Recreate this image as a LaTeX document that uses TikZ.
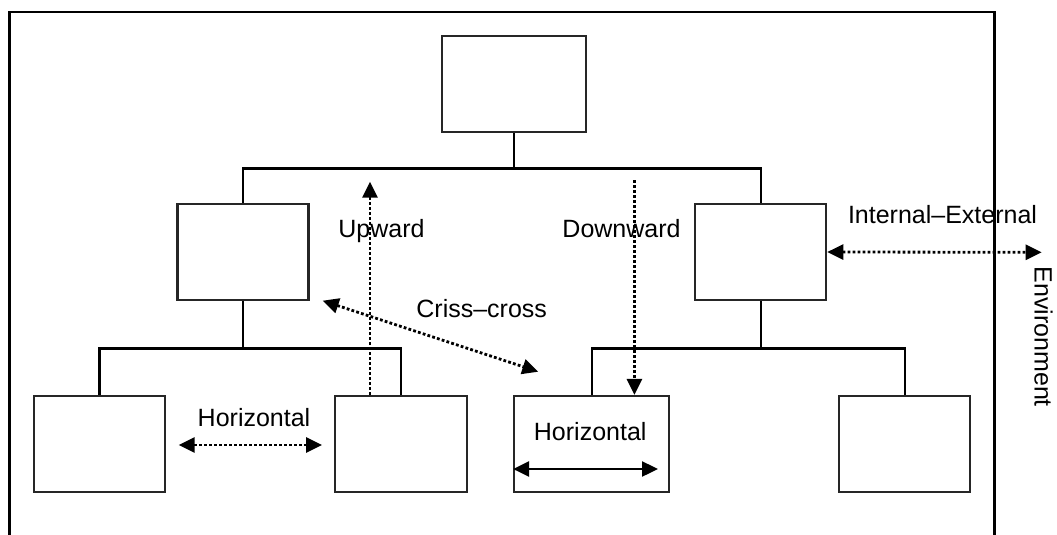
\documentclass[tikz,border=0pt]{standalone}
\usepackage{fontspec}
\setmainfont{Liberation Sans}
\usetikzlibrary{arrows.meta}
\tikzset{
  orgbox/.style={draw=black!85, line width=2.2pt, inner sep=0pt, minimum height=96pt},
  tree/.style={line width=2.4pt, black},
  dotline/.style={line width=2.8pt, dash pattern=on 2.8pt off 2.2pt},
  tip/.style={-{Triangle[length=16pt,width=15pt]}},
  bitip/.style={{Triangle[length=16pt,width=15pt]}-{Triangle[length=16pt,width=15pt]}},
  lbl/.style={inner sep=0pt, anchor=base, font=\fontsize{25}{30}\selectfont},
}
\begin{document}
\begin{tikzpicture}[x=1pt,y=-1pt]
\useasboundingbox (0,0) rectangle (1057,535);
% frame (open at the bottom)
\draw[line width=2.4pt] (9.6,535) -- (9.6,12) -- (994.3,12) -- (994.3,535);

% boxes
\node[orgbox, minimum width=144pt] (top) at (514,84) {};
\node[orgbox, minimum width=131pt] (mL) at (243,252) {};
\node[orgbox, minimum width=131pt] (mR) at (760.7,252) {};
\node[orgbox, minimum width=131pt] (l1) at (99.3,444) {};
\node[orgbox, minimum width=131.6pt] (l2) at (400.8,444) {};
\node[orgbox, minimum width=155pt] (l3) at (591.7,444) {};
\node[orgbox, minimum width=131pt] (l4) at (904.8,444) {};

% tree connectors
\coordinate (j1) at (514,168.3);
\coordinate (j2) at (243,348.3);
\coordinate (j3) at (760.7,348.3);
\draw[tree] (top.south) -- (j1);
\draw[tree] (mL.north) -- (mL.north |- j1) -- (mR.north |- j1) -- (mR.north);
\draw[tree] (mL.south) -- (j2);
\draw[tree] (l1.north) -- (l1.north |- j2) -- (l2.north |- j2) -- (l2.north);
\draw[tree] (mR.south) -- (j3);
\draw[tree] (l3.north) -- (l3.north |- j3) -- (l4.north |- j3) -- (l4.north);

% arrows
\coordinate (upend) at (370,181.7);
\draw[dotline, tip] (l2.north -| upend) -- (upend);
\coordinate (downstart) at (634.4,180);
\draw[dotline, tip] (downstart) -- (l3.north -| downstart);
\coordinate (cc1) at (322.7,300.7);
\coordinate (cc2) at (538.3,371.7);
\draw[dotline, bitip] (cc1) -- (cc2);
\coordinate (ie) at (1041.7,252.3);
\draw[dotline, bitip] (mR.east) -- (ie);
\coordinate (h1a) at (178.7,445);
\coordinate (h1b) at (322,445);
\draw[dotline, bitip] (h1a) -- (h1b);
\coordinate (h2b) at (658,469);
\draw[line width=2.4pt, bitip] (l3.west |- h2b) -- (h2b);

% labels
\node[lbl] (tUp) at (381.5,237.3) {Upward};
\node[lbl] (tDown) at (621.5,237) {Downward};
\node[lbl] (tCC) at (481.7,317.7) {Criss–cross};
\node[lbl] (tIE) at (942.5,223.3) {Internal–External};
\node[lbl] (tH1) at (254,426.7) {Horizontal};
\node[lbl] (tH2) at (590.2,440) {Horizontal};
\node[inner sep=0pt, rotate=-90, font=\fontsize{25}{30}\selectfont] (tEnv) at (1043.5,336.7) {Environment};
\end{tikzpicture}
\end{document}
